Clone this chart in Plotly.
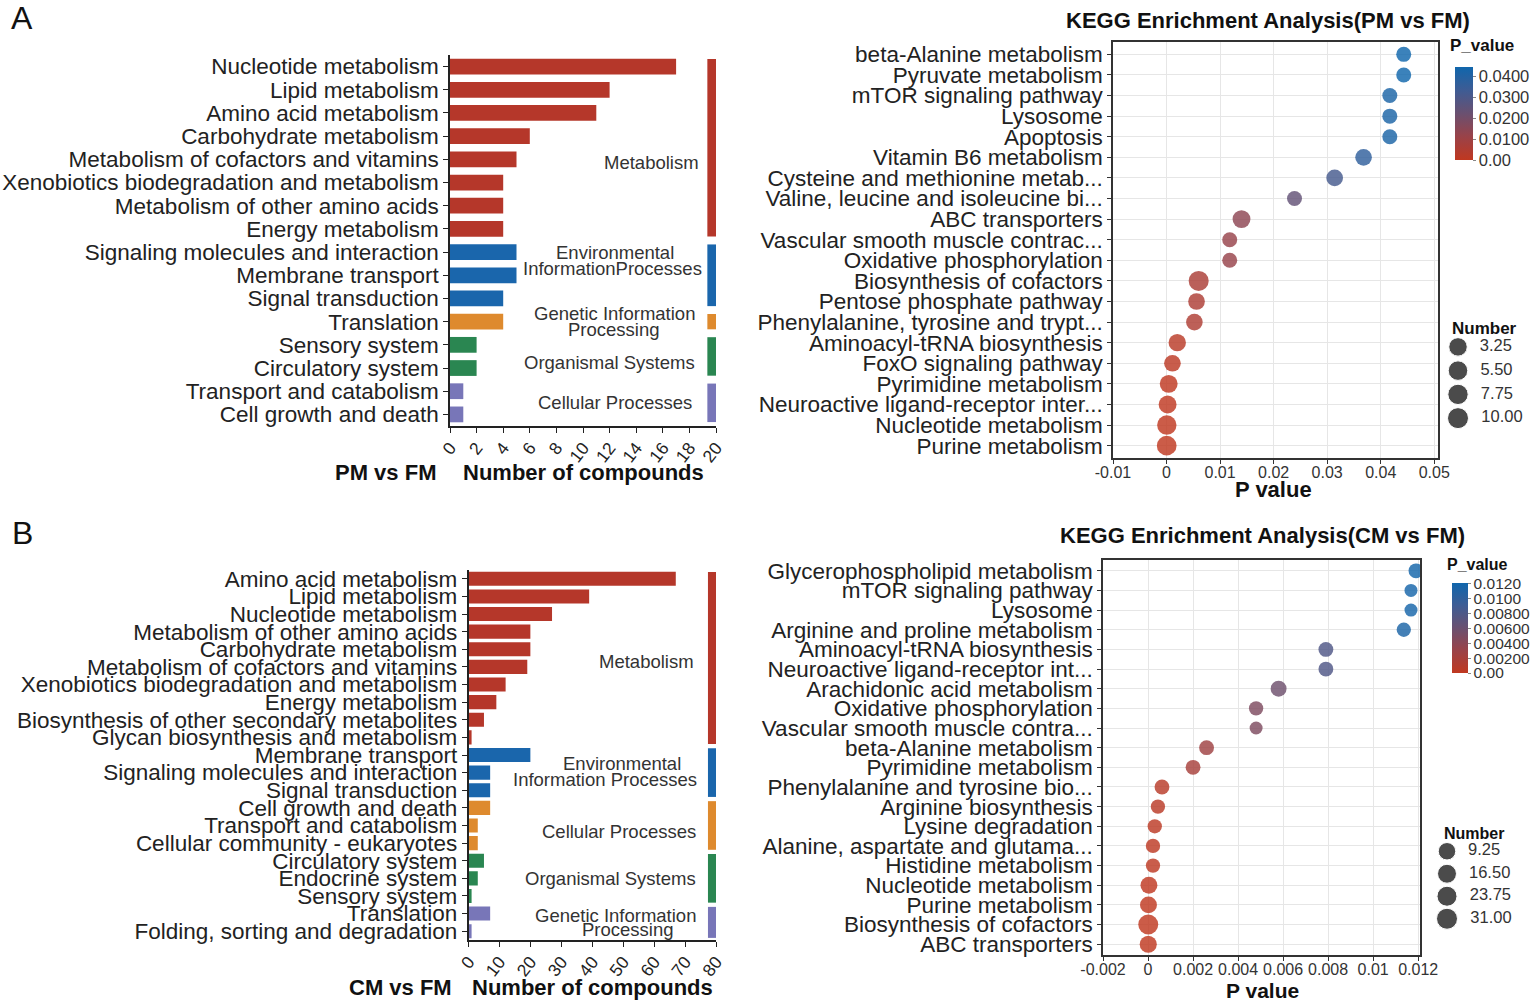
import math
import plotly.graph_objects as go

# ---------------- data ----------------
barA_cats = ["Nucleotide metabolism", "Lipid metabolism", "Amino acid metabolism",
             "Carbohydrate metabolism", "Metabolism of cofactors and vitamins",
             "Xenobiotics biodegradation and metabolism", "Metabolism of other amino acids",
             "Energy metabolism", "Signaling molecules and interaction", "Membrane transport",
             "Signal transduction", "Translation", "Sensory system", "Circulatory system",
             "Transport and catabolism", "Cell growth and death"]
barA_vals = [17, 12, 11, 6, 5, 4, 4, 4, 5, 5, 4, 4, 2, 2, 1, 1]
barA_groups = ["Metabolism"] * 8 + ["Env"] * 3 + ["Genetic"] + ["Organismal"] * 2 + ["Cellular"] * 2

barB_cats = ["Amino acid metabolism", "Lipid metabolism", "Nucleotide metabolism",
             "Metabolism of other amino acids", "Carbohydrate metabolism",
             "Metabolism of cofactors and vitamins", "Xenobiotics biodegradation and metabolism",
             "Energy metabolism", "Biosynthesis of other secondary metabolites",
             "Glycan biosynthesis and metabolism", "Membrane transport",
             "Signaling molecules and interaction", "Signal transduction",
             "Cell growth and death", "Transport and catabolism",
             "Cellular community - eukaryotes", "Circulatory system", "Endocrine system",
             "Sensory system", "Translation", "Folding, sorting and degradation"]
barB_vals = [67, 39, 27, 20, 20, 19, 12, 9, 5, 1, 20, 7, 7, 7, 3, 3, 5, 3, 1, 7, 1]
barB_groups = ["Metabolism"] * 10 + ["Env"] * 3 + ["Cellular"] * 3 + ["Organismal"] * 3 + ["Genetic"] * 2

groupA_labels = {"Metabolism": ["Metabolism"],
                 "Env": ["Environmental", "InformationProcesses"],
                 "Genetic": ["Genetic Information", "Processing"],
                 "Organismal": ["Organismal Systems"],
                 "Cellular": ["Cellular Processes"]}
groupB_labels = {"Metabolism": ["Metabolism"],
                 "Env": ["Environmental", "Information Processes"],
                 "Cellular": ["Cellular Processes"],
                 "Organismal": ["Organismal Systems"],
                 "Genetic": ["Genetic Information", "Processing"]}

dotA_paths = ["beta-Alanine metabolism", "Pyruvate metabolism", "mTOR signaling pathway",
              "Lysosome", "Apoptosis", "Vitamin B6 metabolism", "Cysteine and methionine metab...",
              "Valine, leucine and isoleucine bi...", "ABC transporters",
              "Vascular smooth muscle contrac...", "Oxidative phosphorylation",
              "Biosynthesis of cofactors", "Pentose phosphate pathway",
              "Phenylalanine, tyrosine and trypt...", "Aminoacyl-tRNA biosynthesis",
              "FoxO signaling pathway", "Pyrimidine metabolism",
              "Neuroactive ligand-receptor inter...", "Nucleotide metabolism", "Purine metabolism"]
dotA_p = [0.0443, 0.0443, 0.0417, 0.0417, 0.0417, 0.0368, 0.0314, 0.0239, 0.0140, 0.0118,
          0.0118, 0.0060, 0.0056, 0.0052, 0.0020, 0.0011, 0.0004, 0.0002, 0.00005, 0.00003]
dotA_n = [1, 1, 1, 1, 1, 2, 2, 1, 4, 1, 1, 10, 2, 2, 3, 2, 4, 4, 8, 9]

dotB_paths = ["Glycerophospholipid metabolism", "mTOR signaling pathway", "Lysosome",
              "Arginine and proline metabolism", "Aminoacyl-tRNA biosynthesis",
              "Neuroactive ligand-receptor int...", "Arachidonic acid metabolism",
              "Oxidative phosphorylation", "Vascular smooth muscle contra...",
              "beta-Alanine metabolism", "Pyrimidine metabolism",
              "Phenylalanine and tyrosine bio...", "Arginine biosynthesis", "Lysine degradation",
              "Alanine, aspartate and glutama...", "Histidine metabolism", "Nucleotide metabolism",
              "Purine metabolism", "Biosynthesis of cofactors", "ABC transporters"]
dotB_p = [0.0119, 0.01168, 0.01168, 0.01136, 0.0079, 0.0079, 0.0058, 0.0048, 0.0048, 0.0026,
          0.0020, 0.00062, 0.00044, 0.0003, 0.00022, 0.00022, 0.00004, 0.00002, 0.00001, 0.00001]
dotB_n = [4, 2, 2, 3, 4, 4, 7, 3, 2, 4, 4, 4, 3, 3, 3, 3, 11, 11, 31, 12]

dotA_xticks = [-0.01, 0, 0.01, 0.02, 0.03, 0.04, 0.05]
dotA_xtext = ["-0.01", "0", "0.01", "0.02", "0.03", "0.04", "0.05"]
dotB_xticks = [-0.002, 0, 0.002, 0.004, 0.006, 0.008, 0.01, 0.012]
dotB_xtext = ["-0.002", "0", "0.002", "0.004", "0.006", "0.008", "0.01", "0.012"]
cbA_ticks = [0, 0.01, 0.02, 0.03, 0.04]
cbA_text = ["0.00", "0.0100", "0.0200", "0.0300", "0.0400"]
cbB_ticks = [0, 0.002, 0.004, 0.006, 0.008, 0.010, 0.012]
cbB_text = ["0.00", "0.00200", "0.00400", "0.00600", "0.00800", "0.0100", "0.0120"]
sizeA_breaks = [3.25, 5.50, 7.75, 10.00]
sizeB_breaks = [9.25, 16.50, 23.75, 31.00]

# ---------------- style ----------------
W, H = 1535, 1003
REG = "Liberation Sans, Arial"
LAB = 22.5
COL = {"Metabolism": "#B5372A", "Env": "#1A66AC", "Orange": "#DE8A2E",
       "Organismal": "#2A8651", "Purple": "#7876B8"}
colA = {"Metabolism": COL["Metabolism"], "Env": COL["Env"], "Genetic": COL["Orange"],
        "Organismal": COL["Organismal"], "Cellular": COL["Purple"]}
colB = {"Metabolism": COL["Metabolism"], "Env": COL["Env"], "Cellular": COL["Orange"],
        "Organismal": COL["Organismal"], "Genetic": COL["Purple"]}
CSCALE = [[0, "rgb(192,56,32)"], [0.25, "rgb(154,66,72)"], [0.5, "rgb(106,80,112)"],
          [0.75, "rgb(62,92,148)"], [1, "rgb(16,102,172)"]]


def px(x):
    return x / W


def py(y):
    return 1 - y / H


def sizeA(n):
    return 15 + 5 * math.sqrt(max(n - 1, 0) / 9)


def sizeB(n):
    return 13 + 7 * math.sqrt(max(n - 2, 0) / 29)


fig = go.Figure()

# ---------- bar charts ----------
for cats, vals, groups, cmap, xa, ya, wd in [
        (barA_cats, barA_vals, barA_groups, colA, "x", "y", 0.68),
        (barB_cats, barB_vals, barB_groups, colB, "x2", "y2", 0.8)]:
    fig.add_trace(go.Bar(x=vals, y=cats, orientation="h", xaxis=xa, yaxis=ya,
                         marker=dict(color=[cmap[g] for g in groups], line=dict(width=0)),
                         width=wd, showlegend=False))


def add_groups(groups, cmap, labels, xref, yref, x0, x1, ext, label_pos):
    order = []
    for g in groups:
        if g not in order:
            order.append(g)
    for g in order:
        idx = [i for i, gg in enumerate(groups) if gg == g]
        fig.add_shape(type="rect", xref=xref, yref=yref, x0=x0, x1=x1,
                      y0=min(idx) - ext, y1=max(idx) + ext,
                      fillcolor=cmap[g], line=dict(width=0), layer="above")
        for line, (lx, ly) in zip(labels[g], label_pos[g]):
            fig.add_annotation(x=px(lx), y=py(ly), xref="paper", yref="paper", text=line,
                               showarrow=False, xanchor="center", yanchor="middle",
                               font=dict(family=REG, size=18.5, color="#333333"))


add_groups(barA_groups, colA, groupA_labels, "x", "y", 19.35, 20.0, 0.33,
           {"Metabolism": [(651, 163)], "Env": [(615, 252), (612, 268)],
            "Genetic": [(614, 313), (614, 329)], "Organismal": [(609, 362)],
            "Cellular": [(615, 403)]})
add_groups(barB_groups, colB, groupB_labels, "x2", "y2", 77.4, 80.0, 0.38,
           {"Metabolism": [(646, 661)], "Env": [(622, 763), (605, 779)],
            "Cellular": [(619, 831)], "Organismal": [(610, 878)],
            "Genetic": [(615, 915), (628, 929)]})

# ---------- dot plots ----------
fig.add_trace(go.Scatter(x=dotA_p, y=dotA_paths, mode="markers", xaxis="x3", yaxis="y3",
                         marker=dict(size=[sizeA(n) for n in dotA_n], color=dotA_p,
                                     coloraxis="coloraxis", opacity=0.82, line=dict(width=0)),
                         showlegend=False))
fig.add_trace(go.Scatter(x=dotB_p, y=dotB_paths, mode="markers", xaxis="x4", yaxis="y4",
                         marker=dict(size=[sizeB(n) for n in dotB_n], color=dotB_p,
                                     coloraxis="coloraxis2", opacity=0.82, line=dict(width=0)),
                         showlegend=False))

# size legends (keys placed through their own small axes)
for brk, fn, xa, ya in [(sizeA_breaks, sizeA, "x5", "y5"), (sizeB_breaks, sizeB, "x6", "y6")]:
    fig.add_trace(go.Scatter(x=[0 for _ in brk], y=["%.2f" % b for b in brk],
                             mode="markers+text", xaxis=xa, yaxis=ya,
                             text=["  %.2f" % b for b in brk], textposition="middle right",
                             textfont=dict(family=REG, size=16.5, color="#333333"),
                             marker=dict(size=[fn(b) + 1 for b in brk], color="black"),
                             showlegend=False, cliponaxis=False))

# ---------- axes ----------
bar_x = dict(showline=True, linecolor="#222222", linewidth=1.5, ticks="outside", ticklen=5,
             tickcolor="#222222", showgrid=False, zeroline=False, tickangle=-52,
             automargin=False, ticklabelstandoff=-2,
             tickfont=dict(family=REG, size=17.5, color="#222222"))
bar_y = dict(showline=True, linecolor="#222222", linewidth=1.5, ticks="outside", ticklen=5,
             tickcolor="#222222", showgrid=False, zeroline=False, type="category",
             automargin=False, tickmode="array",
             tickfont=dict(family=REG, size=LAB, color="#222222"))
dot_x = dict(showline=True, mirror=True, linecolor="#333333", linewidth=1.5, ticks="outside",
             ticklen=4, tickcolor="#333333", showgrid=True, gridcolor="#E6E6E6", gridwidth=1,
             zeroline=False, tickangle=0, automargin=False, ticklabelstandoff=-5,
             tickfont=dict(family=REG, size=16, color="#333333"))
dot_y = dict(showline=True, mirror=True, linecolor="#333333", linewidth=1.5, ticks="outside",
             ticklen=4, tickcolor="#333333", showgrid=True, gridcolor="#E6E6E6", gridwidth=1,
             zeroline=False, type="category", automargin=False, tickmode="array",
             tickfont=dict(family=REG, size=LAB, color="#222222"))
hidden = dict(visible=False, automargin=False)

fig.update_layout(
    width=W, height=H, margin=dict(l=0, r=0, t=0, b=0, autoexpand=False),
    paper_bgcolor="white", plot_bgcolor="white", showlegend=False,
    xaxis=dict(bar_x, domain=[px(450), px(716)], range=[0, 20], tickvals=list(range(0, 21, 2)),
               anchor="y"),
    yaxis=dict(bar_y, domain=[py(426), py(55)], range=[len(barA_cats) - 0.5, -0.5],
               tickvals=barA_cats, ticktext=barA_cats,
               categoryorder="array", categoryarray=barA_cats, anchor="x"),
    xaxis2=dict(bar_x, domain=[px(468.5), px(716)], range=[0, 80],
                tickvals=list(range(0, 81, 10)), anchor="y2"),
    yaxis2=dict(bar_y, domain=[py(940), py(570)], range=[len(barB_cats) - 0.5, -0.5],
                tickvals=barB_cats, ticktext=barB_cats,
                categoryorder="array", categoryarray=barB_cats, anchor="x2"),
    xaxis3=dict(dot_x, domain=[px(1113), px(1438)], range=[-0.01, 0.0507],
                tickvals=dotA_xticks, ticktext=dotA_xtext, anchor="y3"),
    yaxis3=dict(dot_y, domain=[py(458), py(42)], range=[len(dotA_paths) - 1 + 0.6, -0.6],
                tickvals=dotA_paths, ticktext=dotA_paths,
                categoryorder="array", categoryarray=dotA_paths, anchor="x3"),
    xaxis4=dict(dot_x, domain=[px(1103), px(1420)], range=[-0.002, 0.01208],
                tickvals=dotB_xticks, ticktext=dotB_xtext, anchor="y4"),
    yaxis4=dict(dot_y, domain=[py(955), py(560)], range=[len(dotB_paths) - 1 + 0.55, -0.55],
                tickvals=dotB_paths, ticktext=dotB_paths,
                categoryorder="array", categoryarray=dotB_paths, anchor="x4"),
    xaxis5=dict(hidden, domain=[px(1445), px(1535)], range=[-0.65, 3.85], anchor="y5"),
    yaxis5=dict(hidden, domain=[py(430), py(335)], range=[3.5, -0.5], type="category",
                anchor="x5"),
    xaxis6=dict(hidden, domain=[px(1434), px(1535)], range=[-0.65, 4.4], anchor="y6"),
    yaxis6=dict(hidden, domain=[py(930), py(840)], range=[3.5, -0.5], type="category",
                anchor="x6"),
    coloraxis=dict(colorscale=CSCALE, cmin=0, cmax=max(dotA_p),
                   colorbar=dict(x=px(1455), xanchor="left", y=py(113.5), yanchor="middle",
                                 len=93, lenmode="pixels", thickness=18, xpad=0, ypad=0,
                                 outlinewidth=0, tickvals=cbA_ticks, ticktext=cbA_text,
                                 ticks="outside", ticklen=3, tickcolor="#888888",
                                 tickfont=dict(family=REG, size=16.5, color="#333333"))),
    coloraxis2=dict(colorscale=CSCALE, cmin=0, cmax=0.0121,
                    colorbar=dict(x=px(1452), xanchor="left", y=py(628), yanchor="middle",
                                  len=90, lenmode="pixels", thickness=16, xpad=0, ypad=0,
                                  outlinewidth=0, tickvals=cbB_ticks, ticktext=cbB_text,
                                  ticks="outside", ticklen=3, tickcolor="#888888",
                                  tickfont=dict(family=REG, size=15.5, color="#333333"))),
)


def ann(x, y, text, size, bold=False, color="#111111"):
    t = "<b>%s</b>" % text if bold else text
    fig.add_annotation(x=px(x), y=py(y), xref="paper", yref="paper", text=t, showarrow=False,
                       xanchor="center", yanchor="middle",
                       font=dict(family=REG, size=size, color=color))


ann(22, 18, "A", 32)
ann(22, 533, "B", 32)
ann(385, 472, "PM vs FM", 22, True)
ann(583, 472, "Number of compounds", 22, True)
ann(400, 987, "CM vs FM", 22, True)
ann(592, 987, "Number of compounds", 22, True)
ann(1268, 20, "KEGG Enrichment Analysis(PM vs FM)", 22, True)
ann(1262, 535, "KEGG Enrichment Analysis(CM vs FM)", 22, True)
ann(1273, 490, "P value", 22, True)
ann(1262, 990, "P value", 21, True)
ann(1482, 45, "P_value", 17, True)
ann(1477, 564, "P_value", 16, True)
ann(1484, 328, "Number", 17, True)
ann(1474, 833, "Number", 16, True)

fig.write_html("out.html", config={"displayModeBar": False},
               post_script="document.body.style.margin='0';")
